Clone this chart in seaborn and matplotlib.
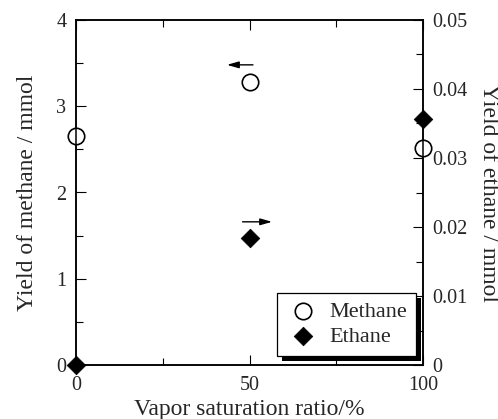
import matplotlib
matplotlib.use("Agg")
import matplotlib.pyplot as plt
import seaborn as sns
import pandas as pd
from matplotlib.ticker import MultipleLocator, FixedLocator
from matplotlib.patches import Rectangle
from matplotlib.transforms import IdentityTransform

# Data
vapor_ratio = [0, 50, 100]
methane_yield = [2.65, 3.28, 2.52]
ethane_yield = [0.0, 0.0184, 0.0356]
x_ticks = [0, 50, 100]
left_ticks = [0, 1, 2, 3, 4]
right_ticks = [0, 0.01, 0.02, 0.03, 0.04, 0.05]
right_tick_labels = ["0", "0.01", "0.02", "0.03", "0.04", "0.05"]

sns.set_style("ticks")
plt.rcParams["font.family"] = ["Liberation Serif", "DejaVu Serif"]

df_m = pd.DataFrame({"x": vapor_ratio, "y": methane_yield, "s": "Methane"})
df_e = pd.DataFrame({"x": vapor_ratio, "y": ethane_yield, "s": "Ethane"})

fig = plt.figure(figsize=(4.98, 4.19), dpi=100)
ax = fig.add_axes([76/498, 1-365/419, (423-76)/498, (365-20)/419])
ax2 = ax.twinx()

sns.scatterplot(data=df_m, x="x", y="y", ax=ax, marker="o", s=140,
                facecolor="white", edgecolor="black", linewidth=1.2,
                clip_on=False, zorder=5, label="Methane", legend=False)
sns.scatterplot(data=df_e, x="x", y="y", ax=ax2, marker="D", s=90,
                color="black", edgecolor="black", linewidth=0.5,
                clip_on=False, zorder=5, label="Ethane", legend=False)

ax.set_xlim(0, 100)
ax.set_ylim(0, 4)
ax2.set_ylim(0, 0.05)

fs = 14.5
lfs = 17
ax.xaxis.set_major_locator(FixedLocator(x_ticks))
ax.xaxis.set_minor_locator(MultipleLocator(25))
ax.yaxis.set_major_locator(FixedLocator(left_ticks))
ax.yaxis.set_minor_locator(MultipleLocator(0.5))
ax2.yaxis.set_major_locator(FixedLocator(right_ticks))
ax2.set_yticklabels(right_tick_labels)
ax2.yaxis.set_minor_locator(MultipleLocator(0.005))

for a in (ax, ax2):
    a.tick_params(which="both", direction="in", labelsize=fs, width=0.8, color="black")
    a.tick_params(which="major", length=7)
    a.tick_params(which="minor", length=5)
    for sp in a.spines.values():
        sp.set_linewidth(1.1)
        sp.set_color("black")
        sp.set_visible(True)
ax.tick_params(axis="x", which="both", top=True, labelbottom=True, pad=8)
ax.tick_params(axis="y", which="both", right=False, pad=7)
ax2.tick_params(axis="y", which="both", left=False, right=True, pad=7)

ax.set_xlabel("Vapor saturation ratio/%", fontsize=lfs, labelpad=3)
ax.set_ylabel("Yield of methane / mmol", fontsize=lfs, labelpad=13)
ax2.set_ylabel("Yield of ethane / mmol", fontsize=lfs, rotation=270, labelpad=22)

# arrows
ax.annotate("", xy=(43.5, 3.48), xytext=(51, 3.48),
            arrowprops=dict(arrowstyle="-|>,head_length=0.7,head_width=0.2",
                            color="black", lw=1.0, shrinkA=0, shrinkB=0))
ax.annotate("", xy=(56.5, 1.66), xytext=(48, 1.66),
            arrowprops=dict(arrowstyle="-|>,head_length=0.7,head_width=0.2",
                            color="black", lw=1.0, shrinkA=0, shrinkB=0))

h1, l1 = ax.get_legend_handles_labels()
h2, l2 = ax2.get_legend_handles_labels()
leg = ax2.legend(h1 + h2, l1 + l2, loc="lower right", fontsize=16,
                 bbox_to_anchor=((416-76)/347, (365-356)/345),
                 frameon=True, fancybox=False, framealpha=1, edgecolor="black",
                 shadow=False, borderaxespad=0.0,
                 handletextpad=0.45, labelspacing=0.2,
                 borderpad=0.4, handlelength=1.5)
leg.get_frame().set_linewidth(0.9)
leg.set_zorder(10)

# thick offset shadow like the reference
fig.canvas.draw()
bb = leg.get_window_extent()
shadow = Rectangle((bb.x0 + 5, bb.y0 - 5), bb.width, bb.height,
                   transform=IdentityTransform(), facecolor="black",
                   edgecolor="none", zorder=9, clip_on=False)
ax2.add_artist(shadow)

fig.savefig("out.png", dpi=100)
